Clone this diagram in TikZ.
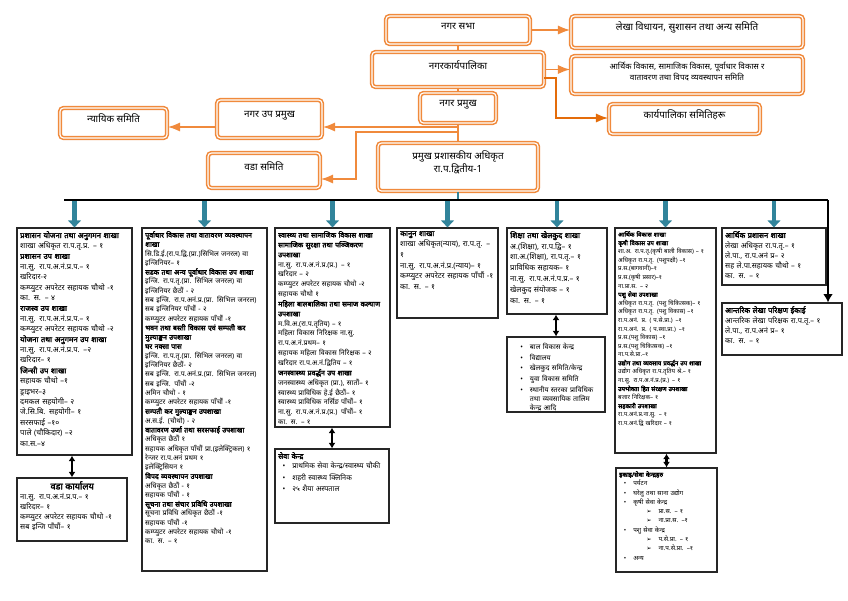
\documentclass[tikz,border=0pt]{standalone}
\usepackage{fontspec}
\usepackage{enumitem}
\newfontfamily\dev[Script=Devanagari, BoldFont={Noto Sans}, BoldFeatures={FakeBold=2.5}]{Noto Sans}
\newfontfamily\sym{DejaVu Sans}
\usetikzlibrary{arrows.meta,fit}
\definecolor{narangi}{HTML}{F08A3C}
\definecolor{gadhanarangi}{HTML}{E46C0A}
\definecolor{teal2}{HTML}{31849B}
\setlist[itemize]{nosep,leftmargin=10pt,label=\textbullet}

\begin{document}
\begin{tikzpicture}[x=0.025cm, y=-0.025cm, >=Latex,
  samiti/.style={draw=narangi, double=white, double distance=0.8pt, line width=1.1pt,
    rounded corners=2.5pt, inner sep=0pt, align=center, font=\dev\fontsize{7}{9}\selectfont},
  shakha/.style={draw=black!85, line width=0.8pt, inner sep=0pt},
  vivaran/.style={anchor=north west, align=left, inner sep=2.5pt, font=\dev\fontsize{5}{6.6}\selectfont},
  pathya/.style={draw=narangi, line width=1.3pt},
  tir/.style={draw=teal2, line width=3pt, -{Triangle[length=5pt,width=9pt]}},
  dohori/.style={line width=1.5pt, {Latex[length=4pt,width=5pt]}-{Latex[length=4pt,width=5pt]}}]

  \useasboundingbox (0,0) rectangle (848,600);

  % top: sabha, karyapalika, pramukh
  \node[samiti, fit={(386,16) (530,44)}] (sabha) {नगर सभा};
  \node[samiti, fit={(571,16) (803,48)}] (lekha) {लेखा विधायन, सुशासन तथा अन्य समिति};
  \node[samiti, fit={(372,52) (544,87)}] (karya) {नगरकार्यपालिका};
  \node[samiti, fit={(571,56) (803,94)}, font=\dev\fontsize{5.8}{8}\selectfont] (arthik)
    {आर्थिक विकास, सामाजिक विकास, पूर्वाधार विकास र\\वातावरण तथा विपद व्यवस्थापन समिति};
  \node[samiti, fit={(420,93) (496,123)}] (pramukh) {नगर प्रमुख};
  \node[samiti, fit={(609,104) (760,134)}] (karyasamiti) {कार्यपालिका समितिहरू};
  \node[samiti, fit={(217,100) (322,138)}] (uppramukh) {नगर उप प्रमुख};
  \node[samiti, fit={(60,108) (167,138)}] (nyayik) {न्यायिक समिति};
  \node[samiti, fit={(378,143) (538,191)}] (ppa) {प्रमुख प्रशासकीय अधिकृत\\रा.प.द्वितीय-1};
  \node[samiti, fit={(208,153) (320,188)}] (vadasamiti) {वडा समिति};

  \draw[pathya, ->] (sabha.east) -- (lekha.west |- sabha.east);
  \draw[pathya] (sabha.south) -- (karya.north);
  \draw[pathya, ->] (karya.east) -- (arthik.west |- karya.east);
  \coordinate (k1) at (544,78);
  \coordinate (k2) at (556,78);
  \coordinate (k3) at (556,118);
  \draw[pathya, draw=gadhanarangi, ->] (k1) -- (k2) -- (k3) -- (karyasamiti.west |- k3);
  \draw[pathya] (karya.south) -- (pramukh.north);
  \draw[pathya] (pramukh.south) -- (ppa.north);
  \coordinate (j1) at (458,127);
  \coordinate (j2) at (458,132);
  \coordinate (m1) at (356,132);
  \coordinate (m2) at (356,179);
  \draw[pathya, ->] (j1) -- (uppramukh.east |- j1);
  \draw[pathya, ->] (uppramukh.west |- j1) -- (nyayik.east |- j1);
  \draw[pathya, ->] (j2) -- (m1) -- (m2) -- (vadasamiti.east |- m2);

  % shakha boxes
  \node[shakha, fit={(17,228) (132,455)}] (b1) {};
  \node[vivaran, text width=2.72cm, font=\dev\fontsize{5.4}{7.4}\selectfont] (b1text) at (b1.north west)
    {\textbf{प्रशासन योजना तथा अनुगमन शाखा}\\
    शाखा अधिकृत रा.प.तृ.प्र. – १\\
    \textbf{प्रशासन उप शाखा}\\
    ना.सु. रा.प.अ.नं.प्र.प.– १\\
    खरिदार-२\\
    कम्प्युटर अपरेटर सहायक चौथो -१\\
    का. स. – ४\\
    \textbf{राजस्व उप शाखा}\\
    ना.सु. रा.प.अ.नं.प्र.प.– १\\
    कम्प्युटर अपरेटर सहायक चौथो -२\\
    \textbf{योजना तथा अनुगमन उप शाखा}\\
    ना.सु. रा.प.अ.नं.प्र.प. –२\\
    खरिदार– १\\
    \textbf{जिन्सी उप शाखा}\\
    सहायक चौथो –१\\
    ड्राइभर–३\\
    दमकल सहयोगी– २\\
    जे.सि.बि. सहयोगी– १\\
    सरसफाई –१०\\
    पाले (चौकिदार) –२\\
    का.स.–४};

  \node[shakha, fit={(17,478) (127,541)}] (vada) {};
  \node[vivaran, text width=2.6cm, font=\dev\fontsize{5.3}{7.2}\selectfont] (vadatext) at (vada.north west)
    {\makebox[\linewidth]{\fontsize{6.5}{8.5}\selectfont\textbf{वडा कार्यालय}}\\
    ना.सु. रा.प.अ.नं.प्र.प.– १\\
    खरिदार– १\\
    कम्प्युटर अपरेटर सहायक चौथो -१\\
    सब इन्जि पाँचौं– १};

  \node[shakha, fit={(142,228) (267,571)}] (b2) {};
  \node[vivaran, text width=2.97cm] (b2text) at (b2.north west) {\textbf{पूर्वाधार विकास तथा वातावरण व्यवस्थापन शाखा}\\
    सि.डि.ई.(रा.प.द्वि.(प्रा.)सिभिल जनरल) वा इन्जिनियर– १\\
    \textbf{सडक तथा अन्य पूर्वाधार विकास उप शाखा}\\
    इन्जि. रा.प.तृ.(प्रा. सिभिल जनरल) वा इन्जिनियर छैठौं - २\\
    सब इन्जि. रा.प.अनं.प्र.(प्रा. सिभिल जनरल) सब इन्जिनियर पाँचौं - २\\
    कम्प्युटर अपरेटर सहायक पाँचौं -१\\
    \textbf{भवन तथा बस्ती विकास एवं सम्पती कर मुल्याङ्कन उपशाखा}\\
    \textbf{घर नक्सा पास}\\
    इन्जि. रा.प.तृ.(प्रा. सिभिल जनरल) वा इन्जिनियर छैठौं- २\\
    सब इन्जि. रा.प.अनं.प्र.(प्रा. सिभिल जनरल) सब इन्जि. पाँचौं -२\\
    अमिन चौथो - १\\
    कम्प्युटर अपरेटर सहायक पाँचौं -१\\
    \textbf{सम्पती कर मुल्याङ्कन उपशाखा}\\
    अ.स.ई. (चौथो) - २\\
    \textbf{वातावरण उर्जा तथा सरसफाई उपशाखा}\\
    अधिकृत छैठौं १\\
    सहायक अधिकृत पाँचौं प्रा.(इलेक्ट्रिकल) १\\
    रेन्जर रा.प.अनं प्रथम १\\
    इलेक्ट्रिसियन १\\
    \textbf{विपद व्यवस्थापन उपशाखा}\\
    अधिकृत छैठौं - १\\
    सहायक पाँचौं - १\\
    \textbf{सूचना तथा संचार प्रविधि उपशाखा}\\
    सूचना प्रविधि अधिकृत छैठौं -१\\
    सहायक पाँचौं -१\\
    कम्प्युटर अपरेटर सहायक चौथो -१\\
    का. स. – १};

  \node[shakha, fit={(275,228) (390,427)}] (b3) {};
  \node[vivaran, text width=2.72cm, font=\dev\fontsize{5}{7}\selectfont] (b3text) at (b3.north west)
    {\textbf{स्वास्थ्य तथा सामाजिक विकास शाखा}\\
    \textbf{सामाजिक सुरक्षा तथा पञ्जिकरण उपशाखा}\\
    ना.सु. रा.प.अ.नं.प्र.(प्र.) – १\\
    खरिदार – २\\
    कम्प्युटर अपरेटर सहायक चौथो -२\\
    सहायक चौथो १\\
    \textbf{महिला बालबालिका तथा समाज कल्याण उपशाखा}\\
    म.वि.अ.(रा.प.तृतिय) – १\\
    महिला विकास निरिक्षक ना.सु. रा.प.अ.नं.प्रथम– १\\
    सहायक महिला विकास निरिक्षक – २\\
    खरिदार रा.प.अ.नं.द्वितिय – १\\
    \textbf{जनस्वास्थ्य प्रवर्द्धन उप शाखा}\\
    जनस्वास्थ्य अधिकृत (प्रा.), सातौं– १\\
    स्वास्थ्य प्राविधिक हे.ई छैठौं– १\\
    स्वास्थ्य प्राविधिक नर्सिङ पाँचौं– १\\
    ना.सु. रा.प.अ.नं.प्र.(प्र.) पाँचौं– १\\
    का. स. – १};

  \node[shakha, fit={(275,449) (389,523)}] (seva) {};
  \node[vivaran, text width=2.7cm, font=\dev\fontsize{5.2}{6.8}\selectfont] (sevatext) at (seva.north west)
    {\textbf{सेवा केन्द्र}
    \begin{itemize}[itemsep=1.5pt]
    \item प्राथमिक सेवा केन्द्र/स्वास्थ्य चौकी
    \item शहरी स्वास्थ्य क्लिनिक
    \item २५ शैया अस्पताल
    \end{itemize}};

  \node[shakha, fit={(397,228) (498,318)}] (b4) {};
  \node[vivaran, text width=2.37cm, font=\dev\fontsize{5.4}{7.6}\selectfont] (b4text) at (b4.north west)
    {\textbf{कानुन शाखा}\\
    शाखा अधिकृत(न्याय), रा.प.तृ. – १\\
    ना.सु. रा.प.अ.नं.प्र.(न्याय)– १\\
    कम्प्युटर अपरेटर सहायक पाँचौं -१\\
    का. स. – १};

  \node[shakha, fit={(507,228) (607,314)}] (b5) {};
  \node[vivaran, text width=2.35cm, font=\dev\fontsize{5.4}{7.8}\selectfont] (b5text) at (b5.north west)
    {\textbf{शिक्षा तथा खेलकुद शाखा}\\
    अ.(शिक्षा), रा.प.द्वि– १\\
    शा.अ.(शिक्षा), रा.प.तृ.– १\\
    प्राविधिक सहायक– १\\
    ना.सु. रा.प.अ.नं.प.प्र.– १\\
    खेलकुद संयोजक – १\\
    का. स. – १};

  \node[shakha, fit={(507,337) (605,412)}] (bal) {};
  \node[vivaran, text width=2.3cm] (baltext) at (bal.north west) {\begin{itemize}[itemsep=1pt,leftmargin=14pt]
    \item बाल विकास केन्द्र
    \item विद्यालय
    \item खेलकुद समिति/केन्द्र
    \item युवा विकास समिति
    \item स्थानीय स्तरका प्राविधिक तथा व्यवसायिक तालिम केन्द्र आदि
    \end{itemize}};

  \node[shakha, fit={(615,228) (716,453)}] (b6) {};
  \node[vivaran, text width=2.37cm, font=\dev\fontsize{4.3}{6.1}\selectfont] (b6text) at (b6.north west)
    {\textbf{आर्थिक विकास शाखा}\\
    \textbf{कृषी विकास उप शाखा}\\
    शा.अ. रा.प.तृ.(कृषी बाली विकास) – १\\
    अधिकृत रा.प.तृ. (पशुपक्षी) –१\\
    प्र.स.(बागवानी)–१\\
    प्र.स.(कृषी प्रसार)–१\\
    ना.प्रा.स. – २\\
    \textbf{पशु सेवा उपशाखा}\\
    अधिकृत रा.प.तृ. (पशु चिकित्सक)– १\\
    अधिकृत रा.प.तृ. (पशु विकास) –१\\
    रा.प.अनं. प्र. ( प.से.प्रा.) –१\\
    रा.प.अनं. प्र. ( प.स्वा.प्रा.) –१\\
    प्र.स.(पशु विकास) –१\\
    प्र.स.(पशु चिकित्सक) –१\\
    ना.प.से.प्रा.–१\\
    \textbf{उद्योग तथा व्यवसाय प्रवर्द्धन उप शाखा}\\
    उद्योग अधिकृत रा.प.तृतिय श्रे.– १\\
    ना.सु. रा.प.अ.नं.प्र.(प्र.) – १\\
    \textbf{उपभोक्ता हित संरक्षण उपशाखा}\\
    बजार निरिक्षक– १\\
    \textbf{सहकारी उपशाखा}\\
    रा.प.अनं.प्र.ना.सु. – १\\
    रा.प.अनं.द्वि खरिदार – १};

  \node[shakha, fit={(616,468) (717,572)}] (ikai) {};
  \node[vivaran, text width=2.37cm, font=\dev\fontsize{4.5}{6}\selectfont] (ikaitext) at (ikai.north west)
    {\textbf{इकाइ/सेवा केन्द्रहरु}
    \begin{itemize}[itemsep=0.9pt]
    \item पर्यटन
    \item घरेलु तथा साना उद्योग
    \item कृषी सेवा केन्द्र
      \begin{itemize}[label={\sym ➢}, leftmargin=18pt, itemsep=0.9pt]
      \item प्रा.स. – १
      \item ना.प्रा.स. –१
      \end{itemize}
    \item पशु सेवा केन्द्र
      \begin{itemize}[label={\sym ➢}, leftmargin=18pt, itemsep=0.9pt]
      \item प.से.प्रा. – १
      \item ना.प.से.प्रा. –१
      \end{itemize}
    \item अन्य
    \end{itemize}};

  \node[shakha, fit={(722,228) (826,285)}] (b7) {};
  \node[vivaran, text width=2.45cm, font=\dev\fontsize{5.3}{7.2}\selectfont] (b7text) at (b7.north west)
    {\textbf{आर्थिक प्रशासन शाखा}\\
    लेखा अधिकृत रा.प.तृ.– १\\
    ले.पा., रा.प.अनं प्र– २\\
    सह ले.पा.सहायक चौथो – १\\
    का. स. – १};

  \node[shakha, fit={(722,303) (842,355)}] (antarik) {};
  \node[vivaran, text width=2.85cm, font=\dev\fontsize{5.3}{7.2}\selectfont] (antariktext) at (antarik.north west)
    {\textbf{आन्तरिक लेखा परिक्षण ईकाई}\\
    आन्तरिक लेखा परिक्षक रा.प.तृ.– १\\
    ले.पा., रा.प.अनं प्र– १\\
    का. स. – १};

  % bus and arrows
  \coordinate (busL) at (64,200);
  \coordinate (busR) at (828,200);
  \draw[teal2, line width=2pt] (ppa.south) -- (ppa.south |- busL);
  \draw[tir] (b1.north |- busL) -- (b1.north);
  \draw[tir] (b2.north |- busL) -- (b2.north);
  \draw[tir] (b3.north |- busL) -- (b3.north);
  \draw[tir] (b4.north |- busL) -- (b4.north);
  \draw[tir] (b5.north |- busL) -- (b5.north);
  \draw[tir] (b6.north |- busL) -- (b6.north);
  \draw[tir] (b7.north |- busL) -- (b7.north);
  \draw[line width=1.8pt] (busL) -- (busR);
  \draw[line width=1.8pt, -{Latex[length=6pt,width=7pt]}] (busR) -- (busR |- antarik.north);

  \draw[dohori] (vada.north |- b1.south) -- (vada.north);
  \draw[dohori] (seva.north |- b3.south) -- (seva.north);
  \draw[dohori] (bal.north |- b5.south) -- (bal.north);
  \draw[dohori] (ikai.north |- b6.south) -- (ikai.north);

\end{tikzpicture}
\end{document}
